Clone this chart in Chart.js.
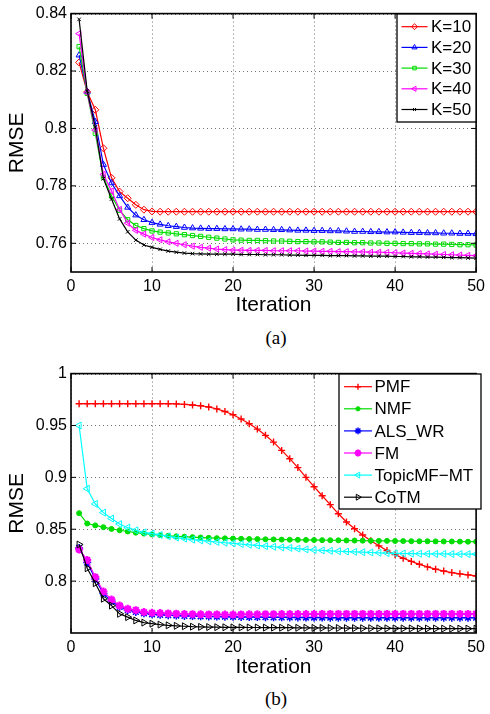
<!DOCTYPE html>
<html>
<head>
<meta charset="utf-8">
<script src="https://cdn.jsdelivr.net/npm/chart.js@4.4.0/dist/chart.umd.min.js"></script>
<style>
  html, body { margin: 0; padding: 0; background: #fff; }
  body { width: 490px; height: 714px; position: relative; overflow: hidden; }
  canvas { position: absolute; left: 0; }
  #chartA { top: 0; }
  #chartB { top: 360px; }
  .caption {
    position: absolute; left: 246px; width: 60px; height: 20px; line-height: 20px;
    text-align: center; font-family: "Liberation Serif", "Times New Roman", serif; font-size: 19px;
  }
</style>
</head>
<body>
<canvas id="chartA" width="490" height="320"></canvas>
<div class="caption" style="top:328px">(a)</div>
<canvas id="chartB" width="490" height="322"></canvas>
<div class="caption" style="top:689px">(b)</div>
<script>
// ---- data ----
const iterations = Array.from({ length: 50 }, (_, i) => i + 1);
const xTicks = [0, 10, 20, 30, 40, 50];

// (a) different K
const yTicksA = [0.76, 0.78, 0.8, 0.82, 0.84];
const k10 = [0.8230, 0.8127, 0.8065, 0.7931, 0.7828, 0.7780, 0.7757, 0.7734, 0.7717, 0.7711,
  0.7710, 0.7710, 0.7710, 0.7710, 0.7710, 0.7710, 0.7710, 0.7710, 0.7710, 0.7710,
  0.7710, 0.7710, 0.7710, 0.7710, 0.7710, 0.7710, 0.7710, 0.7710, 0.7710, 0.7710,
  0.7710, 0.7710, 0.7710, 0.7710, 0.7710, 0.7710, 0.7710, 0.7710, 0.7710, 0.7710,
  0.7710, 0.7710, 0.7710, 0.7710, 0.7710, 0.7710, 0.7710, 0.7710, 0.7710, 0.7710];
const k20 = [0.8255, 0.8128, 0.8023, 0.7874, 0.7810, 0.7765, 0.7725, 0.7698, 0.7682, 0.7672,
  0.7666, 0.7661, 0.7658, 0.7655, 0.7653, 0.7652, 0.7651, 0.7651, 0.7650, 0.7650,
  0.7649, 0.7649, 0.7648, 0.7648, 0.7647, 0.7647, 0.7646, 0.7645, 0.7645, 0.7644,
  0.7644, 0.7643, 0.7643, 0.7642, 0.7641, 0.7641, 0.7640, 0.7640, 0.7639, 0.7639,
  0.7638, 0.7637, 0.7637, 0.7636, 0.7636, 0.7635, 0.7635, 0.7634, 0.7634, 0.7633];
const k30 = [0.8285, 0.8122, 0.7983, 0.7830, 0.7765, 0.7715, 0.7682, 0.7662, 0.7651, 0.7643,
  0.7639, 0.7636, 0.7633, 0.7630, 0.7627, 0.7624, 0.7621, 0.7618, 0.7615, 0.7612,
  0.7611, 0.7610, 0.7610, 0.7609, 0.7608, 0.7608, 0.7607, 0.7606, 0.7606, 0.7605,
  0.7605, 0.7604, 0.7603, 0.7603, 0.7602, 0.7602, 0.7601, 0.7601, 0.7600, 0.7600,
  0.7599, 0.7599, 0.7598, 0.7598, 0.7597, 0.7597, 0.7596, 0.7595, 0.7595, 0.7594];
const k40 = [0.8330, 0.8125, 0.7994, 0.7840, 0.7782, 0.7718, 0.7670, 0.7645, 0.7632, 0.7620,
  0.7612, 0.7605, 0.7600, 0.7595, 0.7590, 0.7586, 0.7583, 0.7580, 0.7578, 0.7576,
  0.7576, 0.7575, 0.7575, 0.7575, 0.7574, 0.7574, 0.7574, 0.7574, 0.7573, 0.7573,
  0.7572, 0.7572, 0.7571, 0.7571, 0.7570, 0.7570, 0.7569, 0.7569, 0.7568, 0.7567,
  0.7566, 0.7565, 0.7564, 0.7563, 0.7562, 0.7561, 0.7560, 0.7559, 0.7558, 0.7557];
const k50 = [0.8380, 0.8130, 0.8005, 0.7825, 0.7754, 0.7685, 0.7640, 0.7611, 0.7594, 0.7586,
  0.7579, 0.7573, 0.7569, 0.7566, 0.7564, 0.7563, 0.7562, 0.7562, 0.7562, 0.7562,
  0.7561, 0.7561, 0.7561, 0.7560, 0.7560, 0.7560, 0.7559, 0.7559, 0.7558, 0.7558,
  0.7558, 0.7557, 0.7557, 0.7557, 0.7556, 0.7556, 0.7555, 0.7555, 0.7555, 0.7554,
  0.7554, 0.7553, 0.7553, 0.7552, 0.7552, 0.7551, 0.7550, 0.7550, 0.7549, 0.7548];

// (b) methods
const yTicksB = [0.8, 0.85, 0.9, 0.95, 1];
const pmf = [0.9710, 0.9710, 0.9710, 0.9710, 0.9710, 0.9710, 0.9710, 0.9710, 0.9710, 0.9710,
  0.9710, 0.9710, 0.9708, 0.9703, 0.9697, 0.9690, 0.9678, 0.9660, 0.9635, 0.9603,
  0.9563, 0.9517, 0.9465, 0.9405, 0.9340, 0.9260, 0.9180, 0.9094, 0.9000, 0.8910,
  0.8823, 0.8737, 0.8649, 0.8570, 0.8505, 0.8445, 0.8390, 0.8340, 0.8295, 0.8255,
  0.8220, 0.8190, 0.8162, 0.8137, 0.8115, 0.8097, 0.8082, 0.8070, 0.8060, 0.8050];
const nmf = [0.8655, 0.8555, 0.8537, 0.8520, 0.8503, 0.8490, 0.8478, 0.8467, 0.8458, 0.8450,
  0.8443, 0.8437, 0.8432, 0.8428, 0.8424, 0.8420, 0.8417, 0.8414, 0.8412, 0.8410,
  0.8408, 0.8406, 0.8405, 0.8403, 0.8402, 0.8400, 0.8399, 0.8398, 0.8397, 0.8396,
  0.8395, 0.8394, 0.8393, 0.8392, 0.8391, 0.8390, 0.8389, 0.8388, 0.8388, 0.8387,
  0.8386, 0.8385, 0.8384, 0.8384, 0.8383, 0.8382, 0.8382, 0.8381, 0.8380, 0.8380];
const alsWr = [0.8320, 0.8180, 0.8020, 0.7880, 0.7805, 0.7752, 0.7722, 0.7703, 0.7690, 0.7680,
  0.7675, 0.7671, 0.7668, 0.7665, 0.7663, 0.7661, 0.7659, 0.7658, 0.7657, 0.7656,
  0.7655, 0.7654, 0.7653, 0.7652, 0.7651, 0.7651, 0.7650, 0.7650, 0.7649, 0.7649,
  0.7649, 0.7648, 0.7648, 0.7648, 0.7648, 0.7647, 0.7647, 0.7647, 0.7647, 0.7647,
  0.7647, 0.7647, 0.7647, 0.7647, 0.7647, 0.7647, 0.7647, 0.7647, 0.7647, 0.7647];
const fm = [0.8305, 0.8203, 0.8038, 0.7900, 0.7822, 0.7764, 0.7733, 0.7720, 0.7702, 0.7695,
  0.7692, 0.7689, 0.7686, 0.7683, 0.7681, 0.7680, 0.7679, 0.7679, 0.7678, 0.7678,
  0.7679, 0.7680, 0.7680, 0.7681, 0.7681, 0.7682, 0.7682, 0.7683, 0.7683, 0.7683,
  0.7684, 0.7684, 0.7684, 0.7684, 0.7684, 0.7684, 0.7684, 0.7684, 0.7684, 0.7684,
  0.7684, 0.7684, 0.7684, 0.7684, 0.7684, 0.7684, 0.7684, 0.7684, 0.7684, 0.7684];
const topicMfMt = [0.9500, 0.8890, 0.8744, 0.8660, 0.8603, 0.8550, 0.8515, 0.8490, 0.8470, 0.8458,
  0.8445, 0.8432, 0.8420, 0.8410, 0.8400, 0.8392, 0.8384, 0.8377, 0.8370, 0.8364,
  0.8357, 0.8350, 0.8344, 0.8337, 0.8331, 0.8325, 0.8320, 0.8313, 0.8306, 0.8300,
  0.8296, 0.8292, 0.8288, 0.8285, 0.8282, 0.8279, 0.8276, 0.8273, 0.8270, 0.8268,
  0.8266, 0.8265, 0.8264, 0.8263, 0.8262, 0.8262, 0.8261, 0.8261, 0.8260, 0.8260];
const cotm = [0.8353, 0.8124, 0.7980, 0.7830, 0.7764, 0.7685, 0.7653, 0.7621, 0.7600, 0.7590,
  0.7581, 0.7574, 0.7569, 0.7565, 0.7561, 0.7559, 0.7557, 0.7556, 0.7555, 0.7554,
  0.7554, 0.7553, 0.7553, 0.7552, 0.7552, 0.7551, 0.7551, 0.7550, 0.7550, 0.7549,
  0.7549, 0.7548, 0.7548, 0.7547, 0.7547, 0.7546, 0.7546, 0.7545, 0.7545, 0.7544,
  0.7544, 0.7544, 0.7543, 0.7543, 0.7543, 0.7542, 0.7542, 0.7542, 0.7542, 0.7542];

// ---- drawing ----
const FONT = '"Liberation Sans", Arial, Helvetica, sans-serif';
Chart.defaults.font.family = FONT;
Chart.defaults.color = '#000';

// one line series, matlab style
function series(label, values, color, marker) {
  return {
    label: label,
    data: iterations.map((it, i) => ({ x: it, y: values[i] })),
    borderColor: color,
    borderWidth: 1.2,
    tension: 0,
    pointStyle: marker.style,
    pointRotation: marker.rot || 0,
    pointRadius: marker.r,
    pointBorderWidth: marker.w || 1,
    pointBorderColor: color,
    pointBackgroundColor: marker.filled ? color : 'rgba(0,0,0,0)'
  };
}

// dotted grid, frame, inward ticks and boxed legend like matlab
const matlabLook = {
  id: 'matlabLook',
  beforeDatasetsDraw(chart) {
    const { ctx, chartArea: a, scales } = chart;
    ctx.save();
    ctx.strokeStyle = 'rgba(0,0,0,0.55)';
    ctx.lineWidth = 1;
    ctx.setLineDash([1, 3]);
    scales.x.ticks.forEach(t => {
      const px = Math.round(scales.x.getPixelForValue(t.value)) + 0.5;
      ctx.beginPath(); ctx.moveTo(px, a.top); ctx.lineTo(px, a.bottom); ctx.stroke();
    });
    scales.y.ticks.forEach(t => {
      const py = Math.round(scales.y.getPixelForValue(t.value)) + 0.5;
      ctx.beginPath(); ctx.moveTo(a.left, py); ctx.lineTo(a.right, py); ctx.stroke();
    });
    ctx.restore();
  },
  afterDraw(chart, args, opts) {
    const { ctx, chartArea: a, scales } = chart;
    const line = (x0, y0, x1, y1) => { ctx.beginPath(); ctx.moveTo(x0, y0); ctx.lineTo(x1, y1); ctx.stroke(); };
    ctx.save();
    ctx.strokeStyle = '#000';
    ctx.lineWidth = 1;
    const tl = 5;
    scales.x.ticks.forEach(t => {
      const px = scales.x.getPixelForValue(t.value);
      line(px, a.bottom, px, a.bottom - tl);
      line(px, a.top, px, a.top + tl);
    });
    scales.y.ticks.forEach(t => {
      const py = scales.y.getPixelForValue(t.value);
      line(a.left, py, a.left + tl, py);
      line(a.right, py, a.right - tl, py);
    });
    ctx.lineWidth = 1.6;
    ctx.strokeRect(a.left, a.top, a.right - a.left, a.bottom - a.top);

    const b = opts.box;
    ctx.fillStyle = '#fff';
    ctx.fillRect(b.x, b.y, b.w, b.h);
    ctx.lineWidth = 1.3;
    ctx.strokeRect(b.x, b.y, b.w, b.h);
    ctx.font = '17px ' + FONT;
    ctx.textBaseline = 'middle';
    ctx.textAlign = 'left';
    chart.data.datasets.forEach((ds, i) => {
      const y = b.y + b.first + i * b.gap;
      const x0 = b.x + b.l0, x1 = b.x + b.l1;
      ctx.strokeStyle = ds.borderColor;
      ctx.lineWidth = ds.borderWidth;
      line(x0, y, x1, y);
      ctx.fillStyle = ds.pointBackgroundColor;
      ctx.strokeStyle = ds.pointBorderColor;
      ctx.lineWidth = ds.pointBorderWidth;
      Chart.helpers.drawPoint(ctx, {
        pointStyle: ds.pointStyle, rotation: ds.pointRotation,
        radius: ds.pointRadius * 0.85, borderWidth: ds.pointBorderWidth
      }, (x0 + x1) / 2, y);
      ctx.fillStyle = '#000';
      ctx.fillText(ds.label, b.x + b.tx, y + 1);
    });
    ctx.restore();
  }
};

function makeChart(id, datasets, yMin, yMax, yTicks, padTop, xHeight, box) {
  const n = datasets.length;
  datasets.forEach((d, i) => { d.order = n - i; });
  return new Chart(document.getElementById(id), {
    type: 'line',
    data: { datasets: datasets },
    options: {
      responsive: false,
      animation: false,
      layout: { padding: { top: padTop, right: 9, left: 0, bottom: 0 } },
      scales: {
        x: {
          type: 'linear', min: 0, max: 50,
          afterBuildTicks: s => { s.ticks = xTicks.map(v => ({ value: v })); },
          afterFit: s => { s.height = xHeight; },
          ticks: { font: { size: 16 }, padding: 5, maxRotation: 0, color: '#000' },
          grid: { display: false, drawTicks: false },
          border: { display: false },
          title: { display: true, text: 'Iteration', font: { size: 21 }, padding: { top: 0, bottom: 2 }, color: '#000' }
        },
        y: {
          min: yMin, max: yMax,
          afterBuildTicks: s => { s.ticks = yTicks.map(v => ({ value: v })); },
          afterFit: s => { s.width = 71; },
          ticks: { font: { size: 16 }, padding: 4, color: '#000', callback: v => String(v) },
          grid: { display: false, drawTicks: false },
          border: { display: false },
          title: { display: true, text: 'RMSE', font: { size: 21 }, padding: { top: 5, bottom: 0 }, color: '#000' }
        }
      },
      plugins: {
        legend: { display: false },
        tooltip: { enabled: false },
        matlabLook: { box: box }
      }
    },
    plugins: [matlabLook]
  });
}

makeChart('chartA', [
  series('K=10', k10, '#ff0000', { style: 'rectRot', r: 3.5 }),
  series('K=20', k20, '#0000ff', { style: 'triangle', r: 3.5 }),
  series('K=30', k30, '#00dd00', { style: 'rect', r: 3 }),
  series('K=40', k40, '#ff00ff', { style: 'triangle', rot: -90, r: 3.5 }),
  series('K=50', k50, '#000000', { style: 'crossRot', r: 2.5 })
], 0.75, 0.84, yTicksA, 10, 48,
  { x: 397, y: 14, w: 79, h: 108, first: 12.7, gap: 20.7, l0: 4.5, l1: 30.5, tx: 34 });

makeChart('chartB', [
  series('PMF', pmf, '#ff0000', { style: 'cross', r: 3.5, w: 1.4 }),
  series('NMF', nmf, '#00dd00', { style: 'circle', r: 2.5, filled: true }),
  series('ALS_WR', alsWr, '#0000ff', { style: 'star', r: 4, w: 1.5 }),
  series('FM', fm, '#ff00ff', { style: 'star', r: 4, w: 2.2 }),
  series('TopicMF\u2212MT', topicMfMt, '#00ffff', { style: 'triangle', rot: -90, r: 4 }),
  series('CoTM', cotm, '#000000', { style: 'triangle', rot: 90, r: 4 })
], 0.75, 1, yTicksB, 12, 49,
  { x: 339, y: 14, w: 142, h: 135, first: 12.7, gap: 22.1, l0: 5, l1: 33, tx: 35.5 });
</script>
</body>
</html>
